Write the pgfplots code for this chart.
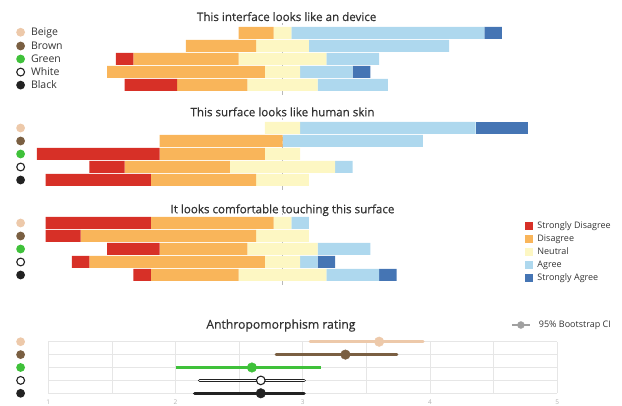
\documentclass[border=0pt]{standalone}
\usepackage{fontspec}
\setmainfont{Open Sans}
\newfontfamily\titlefont{Open Sans}[FakeBold=0.6]
\usepackage{pgfplots}
\usepackage{pgfplotstable}
\pgfplotsset{compat=1.18}
\definecolor{sdC}{HTML}{D73027}
\definecolor{dC}{HTML}{F9B55A}
\definecolor{nC}{HTML}{FDF7C3}
\definecolor{aC}{HTML}{AED8EE}
\definecolor{saC}{HTML}{4575B4}
\definecolor{beigeC}{HTML}{EDC9AA}
\definecolor{brownC}{HTML}{7A5F42}
\definecolor{greenC}{HTML}{3FC13A}
\definecolor{blackC}{HTML}{222222}
\definecolor{txtC}{HTML}{333333}
\definecolor{gridC}{HTML}{E6E6E6}
\definecolor{ciC}{HTML}{A0A0A0}
\newcommand{\dotc}[1]{\tikz[baseline=-0.6ex]\fill[#1] (0,0) circle (4.4pt);}
\newcommand{\dotw}{\tikz[baseline=-0.6ex]\draw[blackC, fill=white, line width=1.1pt] (0,0) circle (3.9pt);}

% y: 4 Beige, 3 Brown, 2 Green, 1 White, 0 Black ; off = invisible offset
\pgfplotstableread{
y off sd d n a sa
4 11.5 0 2 1 11 1
3 8.5 0 4 3 8 0
2 4.5 1 6 5 3 0
1 4 0 9 2 3 1
0 5 3 4 4 4 0
}\tA
\pgfplotstableread{
y off sd d n a sa
4 13 0 0 2 10 3
3 7 0 7 0 8 0
2 0 7 6 2 0 0
1 3 2 6 6 1 0
0 0.5 6 6 3 0 0
}\tB
\pgfplotstableread{
y off sd d n a sa
4 0.5 6 7 1 1 0
3 0.5 2 10 3 0 0
2 4 3 5 4 3 0
1 2 1 10 2 1 1
0 5.5 1 5 5 3 1
}\tC

\pgfplotsset{likert/.style={
  scale only axis, width=491.4pt, height=71.5pt,
  xmin=0, xmax=28, ymin=-0.75, ymax=4.75,
  xbar stacked, bar width=12pt,
  axis line style={draw=none}, xtick=\empty, ytick={0,1,2,3,4},
  major tick length=0pt, clip=false,
  yticklabel style={anchor=west, inner sep=0pt, xshift=-20.8pt, text=txtC, font=\fontsize{10.5}{12}\selectfont},
  yticklabels={\dotc{blackC},\dotw,\dotc{greenC},\dotc{brownC},\dotc{beigeC}},
  legend image code/.code={\path[##1,draw=none] (0pt,-4pt) rectangle (8pt,4pt);},
}}
\newcommand{\likertbars}[1]{%
  \addplot[fill=none,draw=none,forget plot] table[x=off,y=y]{#1};
  \addplot[fill=sdC,draw=none] table[x=sd,y=y]{#1};
  \addplot[fill=dC,draw=none] table[x=d,y=y]{#1};
  \addplot[fill=nC,draw=none] table[x=n,y=y]{#1};
  \addplot[fill=aC,draw=none] table[x=a,y=y]{#1};
  \addplot[fill=saC,draw=none] table[x=sa,y=y]{#1};
  \draw[black!28, line width=1.2pt, dash pattern=on 4pt off 3pt] (axis cs:14,-0.75) -- (axis cs:14,4.75);
}

\begin{document}
\begin{tikzpicture}
\useasboundingbox (0pt,0pt) rectangle (622pt,405pt);

\begin{axis}[likert, at={(36.8pt,310.25pt)}, anchor=south west,
  title={This interface looks like an device},
  every axis title/.style={at={(0.5084,1)}, anchor=base, yshift=2.25pt, text=txtC, font=\titlefont\fontsize{11.6}{13}\selectfont},
  yticklabels={\dotc{blackC}\hspace{6pt}Black,\dotw\hspace{6pt}White,\dotc{greenC}\hspace{6pt}Green,\dotc{brownC}\hspace{6pt}Brown,\dotc{beigeC}\hspace{6pt}Beige},
]
\likertbars{\tA}
\end{axis}

\begin{axis}[likert, at={(36.8pt,215.25pt)}, anchor=south west,
  title={This surface looks like human skin},
  every axis title/.style={at={(0.5,1)}, anchor=base, yshift=2pt, text=txtC, font=\titlefont\fontsize{11.6}{13}\selectfont},
]
\likertbars{\tB}
\end{axis}

\begin{axis}[likert, at={(36.8pt,120.25pt)}, anchor=south west,
  title={It looks comfortable touching this surface},
  every axis title/.style={at={(0.5,1)}, anchor=base, yshift=0pt, text=txtC, font=\titlefont\fontsize{11.6}{13}\selectfont},
  legend style={at={(0.9925,0.878)}, anchor=north west, draw=none, fill=none, inner sep=0pt,
    font=\fontsize{9}{10}\selectfont, text=txtC, row sep=4.5pt,
    nodes={inner sep=0pt, text height=6.5pt, text depth=2pt},
    /tikz/every odd column/.append style={column sep=4.7pt}},
  legend cell align=left,
  legend entries={Strongly Disagree,Disagree,Neutral,Agree,Strongly Agree},
]
\likertbars{\tC}
\end{axis}

\begin{axis}[at={(48.3pt,11.7pt)}, anchor=south west, scale only axis,
  width=509pt, height=51.6pt, xmin=1, xmax=5, ymin=0, ymax=4, clip=false,
  axis line style={draw=none}, major tick length=0pt, minor tick length=0pt,
  xtick={1,2,3,4,5}, minor xtick={1.5,2.5,3.5,4.5},
  grid=both, major grid style={gridC, line width=0.8pt}, minor grid style={gridC, line width=0.8pt},
  ytick={0,1,2,3,4},
  yticklabels={\dotc{blackC},\dotw,\dotc{greenC},\dotc{brownC},\dotc{beigeC}},
  yticklabel style={anchor=west, inner sep=0pt, xshift=-32.3pt},
  xticklabel style={text=black!30, font=\fontsize{6.5}{7}\selectfont, yshift=-3pt},
  /pgf/number format/assume math mode=true,
  title={Anthropomorphism rating},
  every axis title/.style={at={(0.457,1)}, anchor=base, yshift=13pt, text=txtC, font=\titlefont\fontsize{12.2}{14}\selectfont},
  legend style={at={(0.9085,1.3236)}, anchor=west, draw=none, fill=none, inner sep=0pt,
    font=\fontsize{9}{10}\selectfont, text=txtC,
    nodes={inner sep=0pt},
    /tikz/every odd column/.append style={column sep=8pt}},
]
\addlegendimage{legend image code/.code={\draw[ciC, line width=2pt] (0pt,0pt) -- (18pt,0pt); \fill[ciC] (9pt,0pt) circle (3.5pt);}}
\addlegendentry{95\% Bootstrap CI}
% CIs
\addplot[beigeC, line width=3pt, line cap=round, forget plot] coordinates {(3.057,4) (3.946,4)};
\addplot[brownC, line width=3pt, line cap=round, forget plot] coordinates {(2.79,3) (3.74,3)};
\addplot[greenC, line width=3pt, forget plot] coordinates {(2.00,2) (3.14,2)};
\addplot[blackC, line width=3.6pt, line cap=round, forget plot] coordinates {(2.19,1) (3.01,1)};
\addplot[white, line width=1.8pt, line cap=round, forget plot] coordinates {(2.19,1) (3.01,1)};
\addplot[blackC, line width=3.4pt, line cap=round, forget plot] coordinates {(2.15,0) (3.01,0)};
% means
\addplot[only marks, mark=*, mark size=4.8pt, color=beigeC, forget plot] coordinates {(3.60,4)};
\addplot[only marks, mark=*, mark size=4.8pt, color=brownC, forget plot] coordinates {(3.335,3)};
\addplot[only marks, mark=*, mark size=4.8pt, color=greenC, forget plot] coordinates {(2.60,2)};
\addplot[only marks, mark=*, mark size=4.3pt, draw=blackC, fill=white, line width=1.1pt, forget plot] coordinates {(2.67,1)};
\addplot[only marks, mark=*, mark size=4.8pt, color=blackC, forget plot] coordinates {(2.67,0)};
\end{axis}
\end{tikzpicture}
\end{document}
